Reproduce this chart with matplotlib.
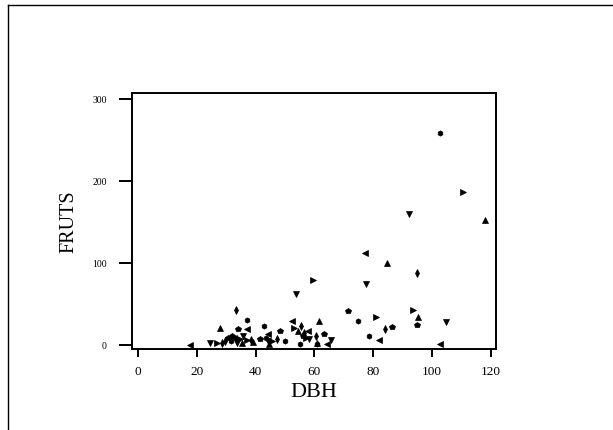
import numpy as np
import matplotlib.pyplot as plt
from matplotlib.lines import Line2D

plt.rcParams['font.family'] = 'Liberation Serif'

# DBH vs number of fruits
dbh = [17.8, 24.4, 26.9, 27.8, 29.5, 30.6, 31.5, 32.5, 33.5, 34.5, 35.5,
       33.2, 34.0, 36.9, 36.9, 35.7, 36.9, 39.0, 38.5, 41.4, 42.8, 44.3,
       44.3, 45.4, 44.6, 47.1, 48.2, 49.9, 52.2, 53.7, 53.0, 54.5, 55.3,
       56.0, 55.0, 57.9, 58.2, 59.4, 61.4, 60.7, 63.3, 60.9, 64.2, 65.8,
       57.3, 60.8, 56.3, 71.5, 74.9, 77.2, 77.4, 80.9, 84.6, 84.0, 86.5,
       78.7, 82.0, 92.2, 93.6, 95.3, 94.8, 94.8, 102.7, 102.7, 104.7,
       110.5, 118.2, 28.5, 32.0, 43.5]
fruts = [0.4, 3, 2, 20.7, 5, 8.5, 5, 9, 3, 7, 2,
         43, 19.5, 30.9, 19.5, 11.3, 6, 4, 6, 7.3, 22.7, 13.4,
         5.2, 5.2, 1, 7.3, 17.4, 5, 28.8, 62.2, 20.7, 17.4, 23.5,
         11.3, 1, 17.4, 7.3, 79.3, 29.6, 11.3, 14, 1, 1, 6,
         9, 3, 15, 42, 28.8, 111.7, 74.4, 33.7, 100, 19.5, 21.5,
         10.5, 6, 159.7, 43, 33.7, 87.3, 24.8, 258.5, 1, 27.6,
         187, 152.8, 3, 11, 9]

markers = ['<', 'v', '>', '^', 'd', 'p', 'h']

fig = plt.figure(figsize=(6.13, 4.30), dpi=100)
ax = fig.add_axes([0.2158, 0.1877, 0.5933, 0.5953])

for i, (x, y) in enumerate(zip(dbh, fruts)):
    ax.plot(x, y, linestyle='none', marker=markers[i % len(markers)],
            markersize=3.8, color='black', markeredgewidth=0.5)

ax.set_xlim(-2, 121.8)
ax.set_ylim(-5.2, 307)
ax.set_xticks([0, 20, 40, 60, 80, 100, 120])
ax.set_yticks([0, 100, 200, 300])

for s in ax.spines.values():
    s.set_linewidth(1.4)

ax.tick_params(axis='x', direction='out', length=5.8, width=1.4, pad=6,
               labelsize=9.5)
ax.tick_params(axis='y', direction='out', length=9.4, width=1.4, pad=9,
               labelsize=7)

ax.set_xlabel("DBH", fontsize=16, labelpad=4)
ax.set_ylabel("FRUTS", fontsize=14.5, labelpad=10)

# outer frame of the scanned page
fig.add_artist(Line2D([8 / 613, 8 / 613], [0, 1 - 5 / 430], color='black',
                      linewidth=1.0, transform=fig.transFigure))
fig.add_artist(Line2D([8 / 613, 1], [1 - 5 / 430, 1 - 5 / 430], color='black',
                      linewidth=1.0, transform=fig.transFigure))

plt.savefig("out.png", dpi=100)
